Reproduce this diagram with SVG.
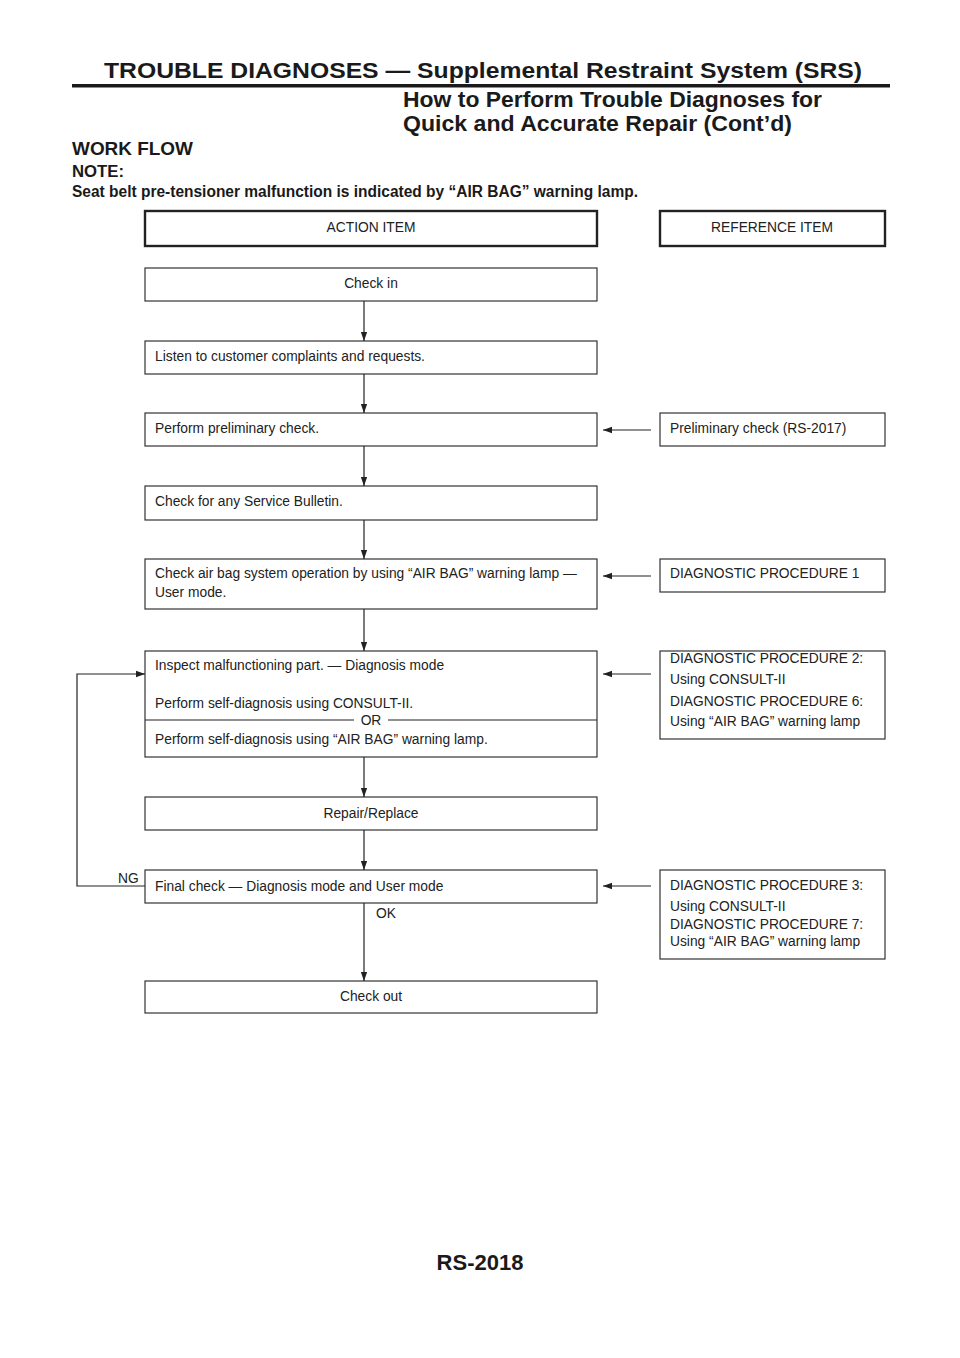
<svg xmlns="http://www.w3.org/2000/svg" width="960" height="1358" viewBox="0 0 960 1358">
<defs>
<marker id="ah" viewBox="0 0 10 10" refX="10" refY="5" markerWidth="9" markerHeight="9" markerUnits="userSpaceOnUse" orient="auto">
<path d="M0,1.5 L10,5 L0,8.5 z" fill="#222"/>
</marker>
<style>
.box{fill:#fff;stroke:#333;stroke-width:1.2}
.hbox{fill:#fff;stroke:#222;stroke-width:2.4}
.t{font-family:"Liberation Sans",Arial,sans-serif;font-size:13.8px;fill:#222}
.c{text-anchor:middle}
.h{font-family:"Liberation Sans",Arial,sans-serif;font-weight:bold;fill:#1a1a1a}
.ln{fill:none;stroke:#222;stroke-width:1.2}
</style>
</defs>
<rect width="960" height="1358" fill="#fff"/>
<g id="header">
<text class="h" x="104" y="78" font-size="22" textLength="758" lengthAdjust="spacingAndGlyphs">TROUBLE DIAGNOSES — Supplemental Restraint System (SRS)</text>
<rect x="72" y="84" width="818" height="3.5" fill="#1a1a1a"/>
<text class="h" x="403" y="107" font-size="22" textLength="419" lengthAdjust="spacingAndGlyphs">How to Perform Trouble Diagnoses for</text>
<text class="h" x="403" y="131" font-size="22" textLength="389" lengthAdjust="spacingAndGlyphs">Quick and Accurate Repair (Cont’d)</text>
<text class="h" x="72" y="155" font-size="18" textLength="121" lengthAdjust="spacingAndGlyphs">WORK FLOW</text>
<text class="h" x="72" y="177" font-size="16" textLength="52" lengthAdjust="spacingAndGlyphs">NOTE:</text>
<text class="h" x="72" y="197" font-size="16" textLength="566" lengthAdjust="spacingAndGlyphs">Seat belt pre-tensioner malfunction is indicated by “AIR BAG” warning lamp.</text>
</g>
<g id="action-item"><rect class="hbox" x="145" y="211" width="452" height="35"/><text class="t c" x="371" y="232">ACTION ITEM</text></g>
<g id="reference-item"><rect class="hbox" x="660" y="211" width="225" height="35"/><text class="t c" x="772" y="232">REFERENCE ITEM</text></g>
<g id="check-in"><rect class="box" x="145" y="268" width="452" height="33"/><text class="t c" x="371" y="288">Check in</text></g>
<g id="listen"><rect class="box" x="145" y="341" width="452" height="33"/><text class="t" x="155" y="361">Listen to customer complaints and requests.</text></g>
<g id="preliminary"><rect class="box" x="145" y="413" width="452" height="33"/><text class="t" x="155" y="433">Perform preliminary check.</text></g>
<g id="ref-preliminary"><rect class="box" x="660" y="413" width="225" height="33"/><text class="t" x="670" y="433">Preliminary check (RS-2017)</text></g>
<g id="service-bulletin"><rect class="box" x="145" y="486" width="452" height="34"/><text class="t" x="155" y="506">Check for any Service Bulletin.</text></g>
<g id="check-airbag"><rect class="box" x="145" y="559" width="452" height="50"/><text class="t" x="155" y="578">Check air bag system operation by using “AIR BAG” warning lamp —</text><text class="t" x="155" y="597">User mode.</text></g>
<g id="ref-dp1"><rect class="box" x="660" y="559" width="225" height="33"/><text class="t" x="670" y="578">DIAGNOSTIC PROCEDURE 1</text></g>
<g id="inspect"><rect class="box" x="145" y="651" width="452" height="106"/>
<text class="t" x="155" y="670">Inspect malfunctioning part. — Diagnosis mode</text>
<text class="t" x="155" y="708">Perform self-diagnosis using CONSULT-II.</text>
<line class="ln" x1="145" y1="720" x2="354" y2="720"/><line class="ln" x1="388" y1="720" x2="597" y2="720"/>
<text class="t c" x="371" y="725">OR</text>
<text class="t" x="155" y="744">Perform self-diagnosis using “AIR BAG” warning lamp.</text></g>
<g id="ref-dp2"><rect class="box" x="660" y="651" width="225" height="88"/>
<text class="t" x="670" y="663">DIAGNOSTIC PROCEDURE 2:</text><text class="t" x="670" y="684">Using CONSULT-II</text><text class="t" x="670" y="706">DIAGNOSTIC PROCEDURE 6:</text><text class="t" x="670" y="726">Using “AIR BAG” warning lamp</text></g>
<g id="repair"><rect class="box" x="145" y="797" width="452" height="33"/><text class="t c" x="371" y="818">Repair/Replace</text></g>
<g id="final-check"><rect class="box" x="145" y="870" width="452" height="33"/><text class="t" x="155" y="891">Final check — Diagnosis mode and User mode</text></g>
<g id="ref-dp3"><rect class="box" x="660" y="870" width="225" height="89"/>
<text class="t" x="670" y="890">DIAGNOSTIC PROCEDURE 3:</text><text class="t" x="670" y="911">Using CONSULT-II</text><text class="t" x="670" y="929">DIAGNOSTIC PROCEDURE 7:</text><text class="t" x="670" y="946">Using “AIR BAG” warning lamp</text></g>
<g id="check-out"><rect class="box" x="145" y="981" width="452" height="32"/><text class="t c" x="371" y="1001">Check out</text></g>
<g id="connectors">
<line class="ln" x1="364" y1="301" x2="364" y2="341" marker-end="url(#ah)"/>
<line class="ln" x1="364" y1="374" x2="364" y2="413" marker-end="url(#ah)"/>
<line class="ln" x1="364" y1="446" x2="364" y2="486" marker-end="url(#ah)"/>
<line class="ln" x1="364" y1="520" x2="364" y2="559" marker-end="url(#ah)"/>
<line class="ln" x1="364" y1="609" x2="364" y2="651" marker-end="url(#ah)"/>
<line class="ln" x1="364" y1="757" x2="364" y2="797" marker-end="url(#ah)"/>
<line class="ln" x1="364" y1="830" x2="364" y2="870" marker-end="url(#ah)"/>
<line class="ln" x1="364" y1="903" x2="364" y2="981" marker-end="url(#ah)"/>
<line class="ln" x1="651" y1="430" x2="603" y2="430" marker-end="url(#ah)"/>
<line class="ln" x1="651" y1="576" x2="603" y2="576" marker-end="url(#ah)"/>
<line class="ln" x1="651" y1="674" x2="603" y2="674" marker-end="url(#ah)"/>
<line class="ln" x1="651" y1="886" x2="603" y2="886" marker-end="url(#ah)"/>
<path class="ln" d="M145,886 H77 V674 H145" marker-end="url(#ah)"/>
<text class="t" x="118" y="883">NG</text>
<text class="t" x="376" y="918">OK</text>
</g>
<g id="footer"><text class="h c" x="480" y="1270" font-size="22">RS-2018</text></g>
</svg>
